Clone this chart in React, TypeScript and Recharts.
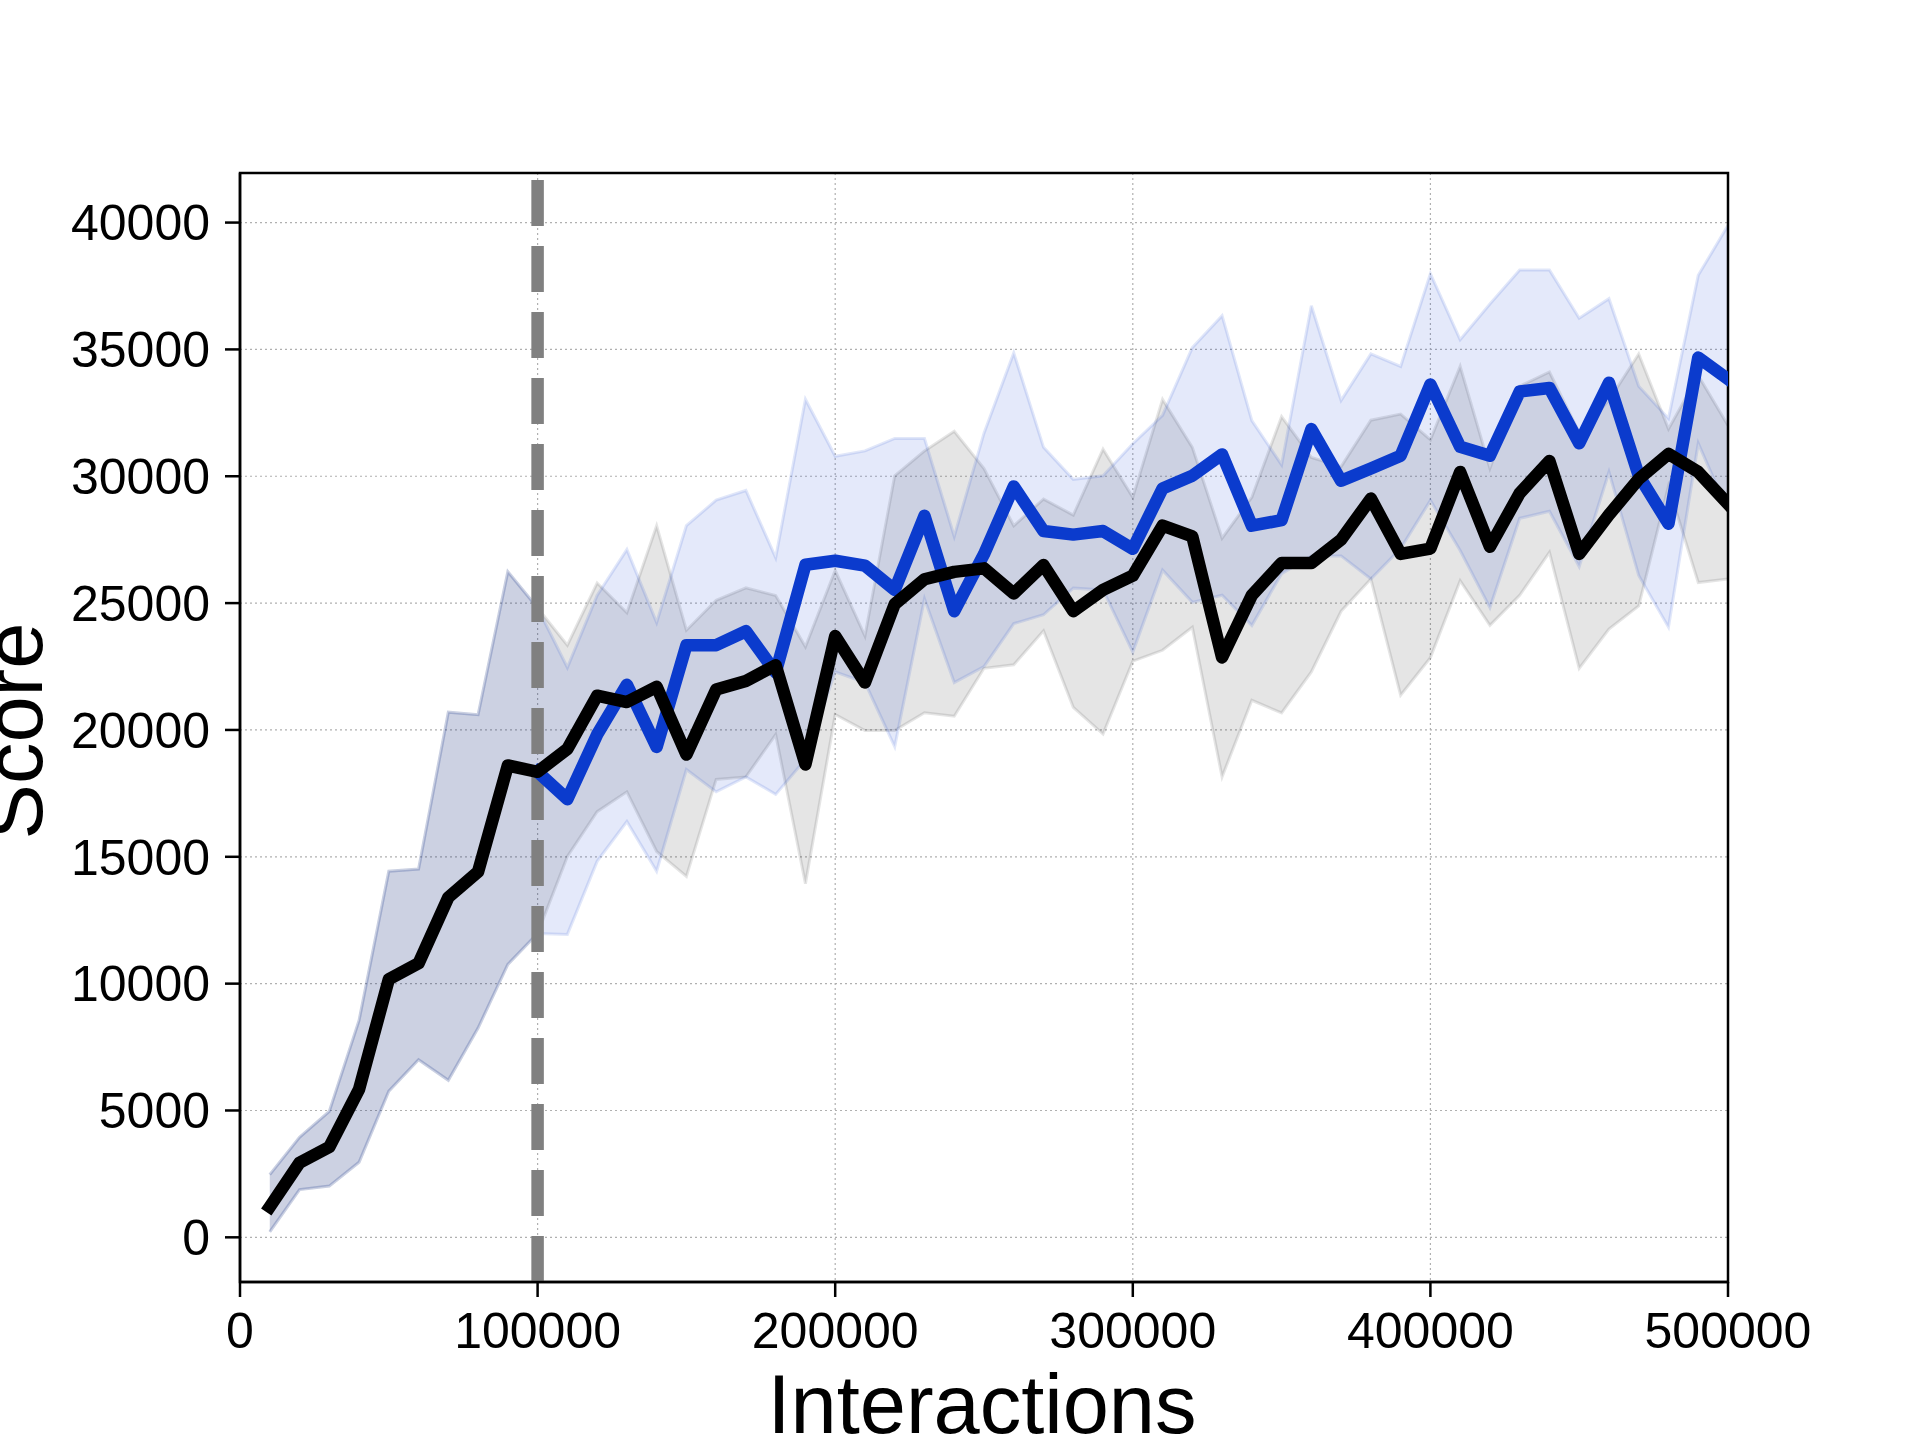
import React from 'react';
import {
  ComposedChart,
  Line,
  Area,
  XAxis,
  YAxis,
  CartesianGrid,
  ReferenceLine,
  ReferenceArea,
} from 'recharts';

const FONT = '"Liberation Sans", Arial, Helvetica, sans-serif';

const steps = [
  10000, 20000, 30000, 40000, 50000, 60000, 70000, 80000, 90000, 100000,
  110000, 120000, 130000, 140000, 150000, 160000, 170000, 180000, 190000, 200000,
  210000, 220000, 230000, 240000, 250000, 260000, 270000, 280000, 290000, 300000,
  310000, 320000, 330000, 340000, 350000, 360000, 370000, 380000, 390000, 400000,
  410000, 420000, 430000, 440000, 450000, 460000, 470000, 480000, 490000, 500000,
];

const blackMean = [
  1200, 2940, 3560, 5830, 10170, 10800, 13400, 14410, 18600, 18350,
  19250, 21350, 21100, 21700, 19030, 21590, 21930, 22550, 18640, 23700,
  21870, 24960, 25940, 26230, 26370, 25380, 26500, 24680, 25520, 26080,
  28050, 27630, 22860, 25310, 26580, 26580, 27500, 29120, 26940, 27150,
  30170, 27220, 29330, 30600, 26940, 28480, 29890, 30880, 30170, 28910,
];

const blackLow = [
  215, 1880, 2020, 2960, 5760, 7000, 6190, 8250, 10760, 11980,
  15010, 16780, 17560, 15210, 14230, 18050, 18150, 19820, 13940, 20610,
  19980, 19980, 20680, 20540, 22430, 22570, 23910, 20890, 19840, 22710,
  23140, 24050, 18150, 21170, 20670, 22290, 24680, 25950, 21370, 22850,
  25880, 24120, 25310, 27000, 22430, 23980, 24890, 29610, 25810, 25950,
];

const blackHigh = [
  2470, 3940, 4960, 8550, 14430, 14520, 20700, 20600, 26240, 24810,
  23340, 25790, 24620, 28050, 23930, 25110, 25600, 25300, 23280, 26290,
  23700, 30020, 31000, 31770, 30300, 28050, 29100, 28470, 31070, 29170,
  33030, 31140, 27560, 29170, 32350, 30740, 30380, 32210, 32450, 31440,
  34330, 30310, 33550, 34110, 31720, 32990, 34820, 31860, 33970, 32000,
];

// blue series starts at 100000 interactions (index 9)
const blueStart = 9;

const blueMean = [
  18350, 17270, 19820, 21780, 19330, 23340, 23340, 23890, 22270, 26510,
  26670, 26480, 25520, 28440, 24680, 26930, 29600, 27840, 27700, 27840,
  27140, 29520, 30020, 30860, 28050, 28270, 31860, 29820, 30310, 30810,
  33620, 31160, 30810, 33340, 33480, 31300, 33690, 30030, 28130, 34680,
  33830,
];

const blueLow = [
  11980, 11940, 14820, 16390, 14430, 18440, 17560, 18150, 17460, 18840,
  22290, 21870, 19340, 25170, 21870, 22500, 24190, 24540, 25590, 25520,
  23070, 26300, 25030, 25310, 24120, 26160, 26860, 26860, 25950, 27150,
  29050, 27070, 24820, 28340, 28620, 26440, 30170, 26090, 24050, 31300,
  28620,
];

const blueHigh = [
  24810, 22460, 25300, 27110, 24230, 28050, 29060, 29440, 26790, 33030,
  30790, 31000, 31490, 31490, 27630, 31700, 34860, 31140, 29880, 30020,
  31280, 32400, 35070, 36330, 32190, 30450, 36720, 32990, 34820, 34330,
  37990, 35380, 36790, 38130, 38130, 36230, 37000, 33550, 32280, 37920,
  39890,
];

const xTicks = [0, 100000, 200000, 300000, 400000, 500000];
const yTicks = [0, 5000, 10000, 15000, 20000, 25000, 30000, 35000, 40000];
const xDomain = [0, 500000];
const yDomain = [-1761, 41954];
const switchPoint = 100000;

const BLUE = '#0b3bcd';

const rows = steps.map((x, i) => {
  const j = i - blueStart;
  return {
    x,
    black: blackMean[i],
    greyBand: [blackLow[i], blackHigh[i]],
    blue: j >= 0 ? blueMean[j] : null,
    blueBand: j >= 0 ? [blueLow[j], blueHigh[j]] : [blackLow[i], blackHigh[i]],
  };
});

const tickStyle = { fontSize: 50, fill: '#000', fontFamily: FONT };

const renderXLabel = () => (
  <text
    x={982}
    y={1433}
    textAnchor="middle"
    fontSize={83}
    fontFamily={FONT}
    fill="#000"
  >
    Interactions
  </text>
);

const renderYLabel = () => (
  <text
    x={42}
    y={731}
    transform="rotate(-90 42 731)"
    textAnchor="middle"
    fontSize={83}
    fontFamily={FONT}
    fill="#000"
  >
    Score
  </text>
);

export default function App() {
  return (
    <div
      style={{
        position: 'absolute',
        left: 0,
        top: 0,
        width: 1920,
        height: 1440,
        background: '#fff',
      }}
    >
      <ComposedChart
        width={1920}
        height={1440}
        data={rows}
        margin={{ top: 173, right: 192, bottom: 0, left: 0 }}
      >
        <CartesianGrid stroke="#b0b0b0" strokeDasharray="2 3" strokeWidth={1.2} />
        <XAxis
          dataKey="x"
          type="number"
          domain={xDomain}
          ticks={xTicks}
          interval={0}
          allowDataOverflow
          height={158}
          tickSize={15}
          tickMargin={15}
          tick={tickStyle}
          axisLine={{ stroke: '#000', strokeWidth: 2.5 }}
          tickLine={{ stroke: '#000', strokeWidth: 2.5 }}
          label={renderXLabel}
        />
        <YAxis
          type="number"
          domain={yDomain}
          ticks={yTicks}
          interval={0}
          allowDataOverflow
          width={240}
          tickSize={15}
          tickMargin={15}
          tick={tickStyle}
          axisLine={{ stroke: '#000', strokeWidth: 2.5 }}
          tickLine={{ stroke: '#000', strokeWidth: 2.5 }}
          label={renderYLabel}
        />
        <Area
          type="linear"
          dataKey="greyBand"
          fill="#000"
          fillOpacity={0.1}
          stroke="#000"
          strokeOpacity={0.1}
          strokeWidth={3}
          dot={false}
          activeDot={false}
          isAnimationActive={false}
        />
        <Area
          type="linear"
          dataKey="blueBand"
          fill={BLUE}
          fillOpacity={0.11}
          stroke={BLUE}
          strokeOpacity={0.12}
          strokeWidth={3}
          dot={false}
          activeDot={false}
          isAnimationActive={false}
        />
        <ReferenceLine
          x={switchPoint}
          stroke="#808080"
          strokeWidth={12.5}
          strokeDasharray="46 20"
        />
        <Line
          type="linear"
          dataKey="blue"
          stroke={BLUE}
          strokeWidth={12.5}
          strokeLinejoin="round"
          strokeLinecap="square"
          dot={false}
          activeDot={false}
          connectNulls={false}
          isAnimationActive={false}
        />
        <Line
          type="linear"
          dataKey="black"
          stroke="#000"
          strokeWidth={12.5}
          strokeLinejoin="round"
          strokeLinecap="square"
          dot={false}
          activeDot={false}
          isAnimationActive={false}
        />
        <ReferenceArea
          x1={xDomain[0]}
          x2={xDomain[1]}
          y1={yDomain[0]}
          y2={yDomain[1]}
          fill="none"
          fillOpacity={0}
          stroke="#000"
          strokeWidth={2.5}
          ifOverflow="visible"
        />
      </ComposedChart>
    </div>
  );
}
